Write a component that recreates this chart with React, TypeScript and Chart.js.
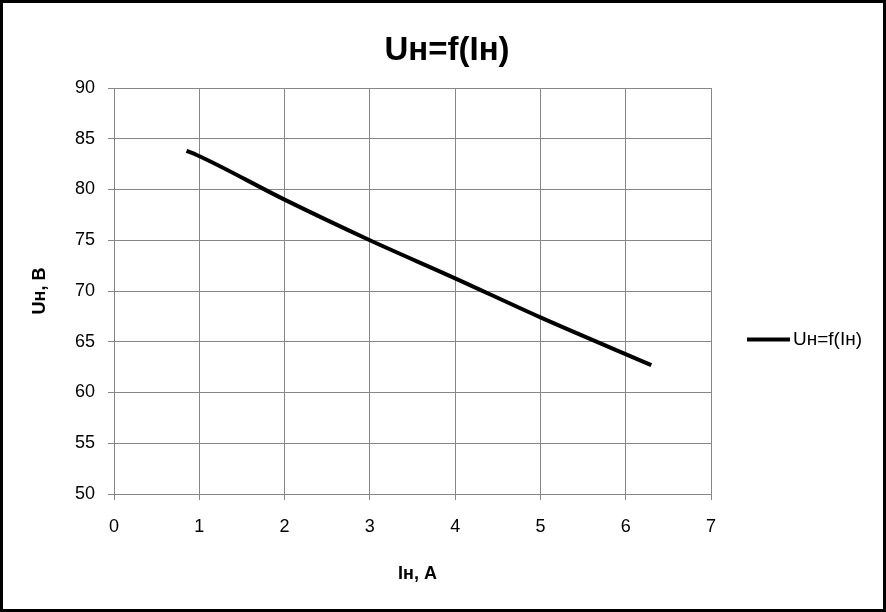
import React, { useEffect, useRef } from "react";
import { Chart, registerables } from "chart.js";

Chart.register(...registerables);

const currentA = [0.85, 0.97, 2.0, 3.0, 4.0, 5.0, 6.3];
const voltageV = [83.8, 83.4, 79.0, 75.0, 71.25, 67.4, 62.7];
const seriesName = "Uн=f(Iн)";
const chartTitle = "Uн=f(Iн)";
const xTitle = "Iн, А";
const yTitle = "Uн, В";

const FONT = "'Liberation Sans', Arial, sans-serif";

const decorPlugin = {
  id: "decor",
  afterDraw(chart: any) {
    const ctx = chart.ctx as CanvasRenderingContext2D;
    const area = chart.chartArea;
    ctx.save();
    // outer border
    ctx.strokeStyle = "#000";
    ctx.lineWidth = 3;
    ctx.strokeRect(1.5, 1.5, chart.width - 3, chart.height - 3);
    // title
    ctx.fillStyle = "#000";
    ctx.textAlign = "center";
    ctx.textBaseline = "middle";
    ctx.font = `bold 33px ${FONT}`;
    ctx.fillText(chartTitle, 447, 51);
    // x title
    ctx.font = `bold 18px ${FONT}`;
    ctx.fillText(xTitle, (area.left + area.right) / 2 + 5, 574);
    // y title
    ctx.save();
    ctx.translate(40, (area.top + area.bottom) / 2);
    ctx.rotate(-Math.PI / 2);
    ctx.fillText(yTitle, 0, 0);
    ctx.restore();
    // legend
    ctx.strokeStyle = "#000";
    ctx.lineWidth = 4;
    ctx.beginPath();
    ctx.moveTo(747, 339.5);
    ctx.lineTo(790, 339.5);
    ctx.stroke();
    ctx.textAlign = "left";
    ctx.font = `19px ${FONT}`;
    ctx.fillText(seriesName, 793, 340);
    ctx.restore();
  },
};

export default function App() {
  const ref = useRef<HTMLCanvasElement>(null);
  useEffect(() => {
    if (!ref.current) return;
    const points = currentA.map((x, i) => ({ x, y: voltageV[i] }));
    const chart = new Chart(ref.current, {
      type: "scatter",
      data: {
        datasets: [
          {
            label: seriesName,
            data: points,
            showLine: true,
            borderColor: "#000",
            backgroundColor: "#000",
            borderWidth: 4,
            pointRadius: 0,
            cubicInterpolationMode: "monotone",
          } as any,
        ],
      },
      options: {
        responsive: false,
        animation: false,
        layout: { padding: { left: 0, top: 88, right: 175, bottom: 0 } },
        plugins: {
          legend: { display: false },
          title: { display: false },
          tooltip: { enabled: false },
        },
        scales: {
          x: {
            type: "linear",
            min: 0,
            max: 7,
            ticks: {
              stepSize: 1,
              color: "#000",
              font: { family: FONT, size: 18 },
              padding: 16,
            },
            grid: { color: "#868686", tickLength: 6, lineWidth: 1 },
            border: { color: "#868686" },
            afterFit: (s: any) => {
              s.height = 118;
            },
          },
          y: {
            min: 50,
            max: 90,
            ticks: {
              stepSize: 5,
              color: "#000",
              font: { family: FONT, size: 18 },
              padding: 13,
            },
            grid: { color: "#868686", tickLength: 6, lineWidth: 1 },
            border: { color: "#868686" },
            afterFit: (s: any) => {
              s.width = 114;
            },
          },
        },
      },
      plugins: [decorPlugin],
    });
    return () => chart.destroy();
  }, []);
  return (
    <div style={{ position: "fixed", left: 0, top: 0, width: 886, height: 612, background: "#fff" }}>
      <canvas ref={ref} width={886} height={612} />
    </div>
  );
}
